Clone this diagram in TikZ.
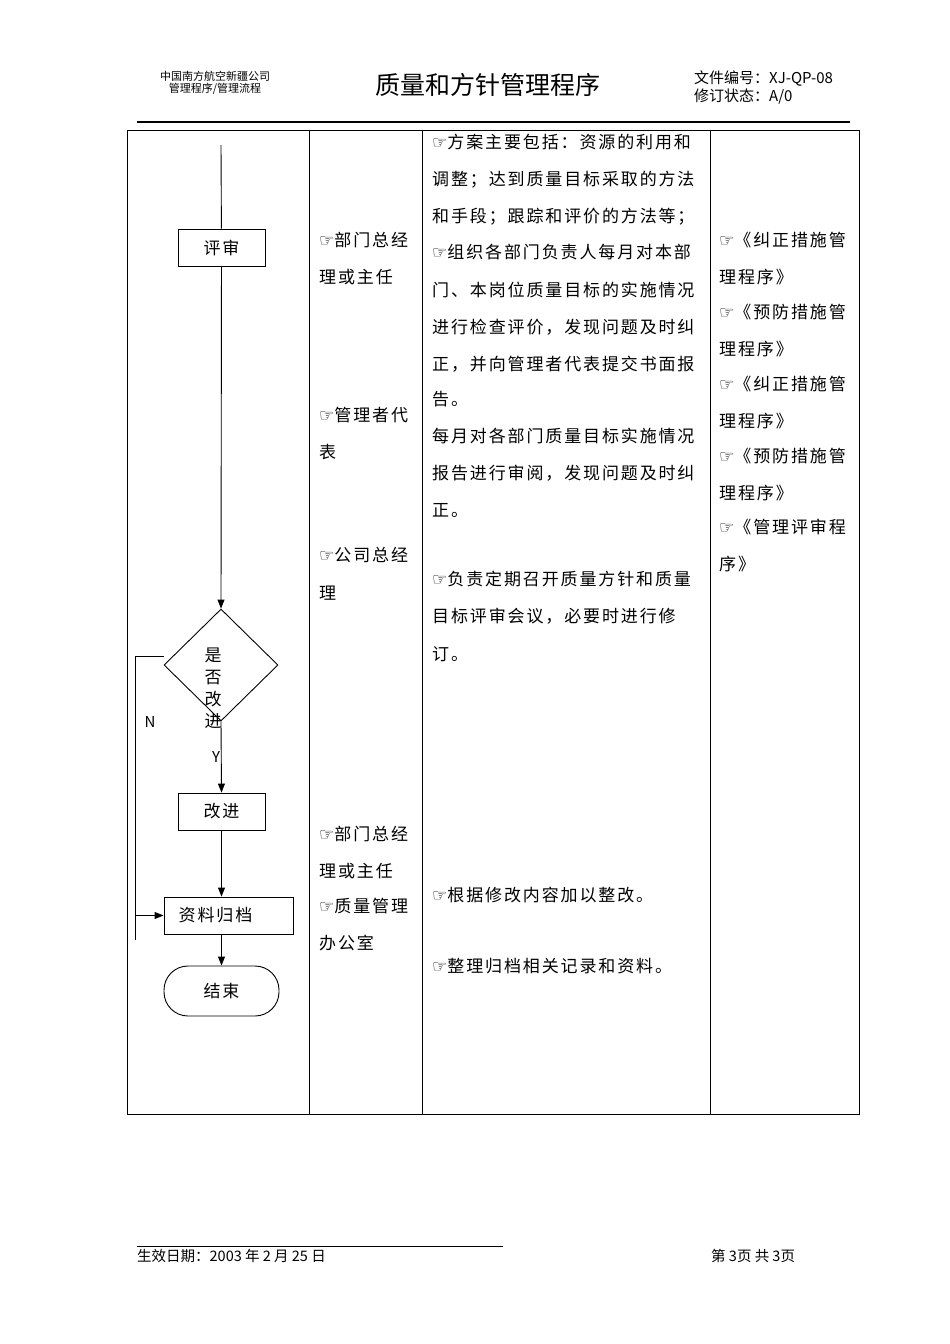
\documentclass[tikz,border=0pt]{standalone}
\usepackage{fontspec}
\setmainfont{Noto Sans CJK SC}
\newfontfamily\spaced[LetterSpace=11]{Noto Sans CJK SC}
\newfontfamily\symf{DejaVu Sans}
\newcommand{\hand}{{\symf\char"261E}}
\usetikzlibrary{arrows.meta,shapes.geometric}
\begin{document}
\begin{tikzpicture}[x=1pt,y=-1pt,
  txt/.style={anchor=west,inner sep=0pt,font=\spaced\fontsize{17}{17}\selectfont},
  boxn/.style={draw,line width=0.9pt,minimum width=87pt,minimum height=37pt,font=\spaced\fontsize{17}{17}\selectfont},
  arr/.style={line width=0.9pt,-{Triangle[length=9pt,width=7pt]}},
  tl/.style={line width=0.7pt}]
\useasboundingbox (0,0) rectangle (950,1344);
% header
\node[font=\fontsize{11}{12.5}\selectfont,align=center] (hl) at (215,83) {中国南方航空新疆公司\\管理程序/管理流程};
\node[font=\fontsize{25}{25}\selectfont] (ht) at (488,85) {质量和方针管理程序};
\node[anchor=west,font=\fontsize{15}{15}\selectfont,inner sep=0pt] (hr1) at (694,79) {文件编号：XJ-QP-08};
\node[anchor=west,font=\fontsize{15}{15}\selectfont,inner sep=0pt] (hr2) at (694,97) {修订状态：A/0};
\draw[line width=1.6pt] (137,122) -- (850,122);
% table
\draw[tl] (127,130) rectangle (859,1114);
\foreach \x in {309,422,710} \draw[tl] (\x,130) -- (\x,1114);
% column 2
\foreach \t/\y in {{\hand 部门总经}/240,{理或主任}/277,{\hand 管理者代}/415,{表}/452,{\hand 公司总经}/555,{理}/593,{\hand 部门总经}/834,{理或主任}/871,{\hand 质量管理}/906,{办公室}/943}
  \node[txt] at (319,\y) {\t};
% column 3
\foreach \t/\y in {{\hand 方案主要包括：资源的利用和}/142,{调整；达到质量目标采取的方法}/180,{和手段；跟踪和评价的方法等；}/217,{\hand 组织各部门负责人每月对本部}/252,{门、本岗位质量目标的实施情况}/290,{进行检查评价，发现问题及时纠}/327,{正，并向管理者代表提交书面报}/364,{告。}/399,{每月对各部门质量目标实施情况}/436,{报告进行审阅，发现问题及时纠}/473,{正。}/510,{\hand 负责定期召开质量方针和质量}/579,{目标评审会议，必要时进行修}/616,{订。}/654,{\hand 根据修改内容加以整改。}/895,{\hand 整理归档相关记录和资料。}/966}
  \node[txt] at (432,\y) {\t};
% column 4
\foreach \t/\y in {{\hand 《纠正措施管}/240,{理程序》}/277,{\hand 《预防措施管}/312,{理程序》}/349,{\hand 《纠正措施管}/384,{理程序》}/421,{\hand 《预防措施管}/456,{理程序》}/493,{\hand 《管理评审程}/527,{序》}/564}
  \node[txt] at (719,\y) {\t};
% flowchart
\coordinate (top) at (221,145);
\node[boxn] (ps) at (221.5,247.5) {评审};
\node[draw,diamond,line width=0.9pt,minimum width=114pt,minimum height=112pt,inner sep=0pt,aspect=1] (dec) at (221,665) {};
\node[inner sep=0pt,align=center,font=\fontsize{17}{22}\selectfont] (dect) at (213,688) {是\\否\\改\\进};
\node[boxn] (gj) at (221.5,811.5) {改进};
\node[boxn,minimum width=129pt] (zl) at (228.5,915.5) {\hspace*{-26pt}资料归档};
\node[draw,line width=0.9pt,minimum width=115pt,minimum height=50pt,font=\spaced\fontsize{17}{17}\selectfont,rounded corners=24pt] (end) at (221.5,991) {结束};
\draw[line width=0.9pt] (top) -- (ps);
\draw[arr] (ps) -- (dec.north);
\draw[arr] (dec.south) -- (gj.north);
\draw[arr] (gj) -- (gj.south |- zl.north);
\draw[arr] (gj.south |- zl.south) -- (gj.south |- end.north);
\node[font=\fontsize{15}{15}\selectfont] (yl) at (216,757) {Y};
\node[font=\fontsize{15}{15}\selectfont] (nl) at (150,722) {N};
\coordinate (fb1) at (164,656);
\coordinate (fb2) at (135,656);
\coordinate (fb3) at (135,940);
\draw[line width=0.9pt] (fb1) -- (fb2) -- (fb3);
\draw[arr] (fb2 |- zl.west) -- (zl.west);
% footer
\draw[line width=0.7pt] (137,1246) -- (503,1246);
\node[anchor=west,inner sep=0pt,font=\fontsize{14.5}{14.5}\selectfont] (fd) at (137,1256) {生效日期：2003 年 2 月 25 日};
\node[anchor=west,inner sep=0pt,font=\fontsize{14.5}{14.5}\selectfont] (fp) at (711,1256) {第 3页 共 3页};
\end{tikzpicture}
\end{document}
